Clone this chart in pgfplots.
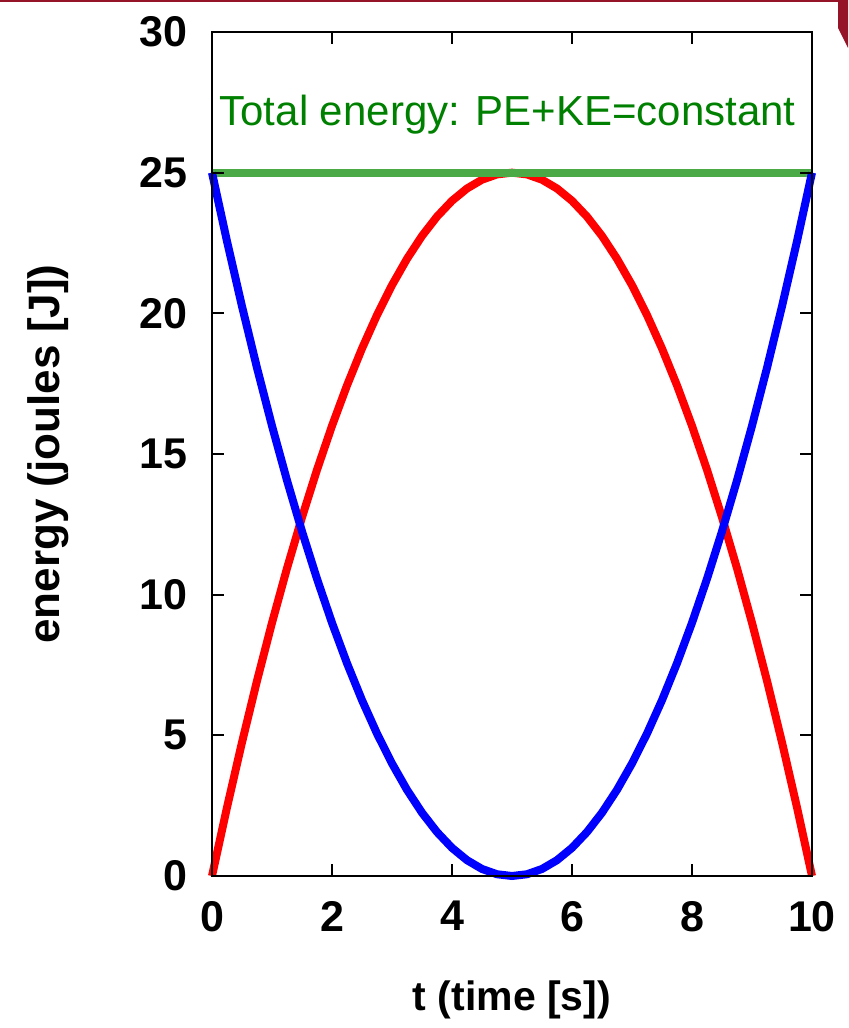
\documentclass[border=0pt]{standalone}
\usepackage{fontspec}
\setmainfont{Liberation Sans}
\usepackage{pgfplots}
\pgfplotsset{compat=1.18}
\definecolor{gline}{RGB}{76,170,70}
\definecolor{gtext}{RGB}{0,128,0}
\definecolor{slidered}{RGB}{150,20,40}
\begin{document}
\begin{tikzpicture}
\useasboundingbox (-106pt,-76pt) rectangle (318pt,438pt);
\begin{axis}[
  at={(0,0)}, anchor=south west,
  scale only axis, width=300pt, height=422pt,
  xmin=0, xmax=10, ymin=0, ymax=30,
  xtick={0,2,4,6,8,10}, ytick={0,5,10,15,20,25,30},
  tick align=inside, major tick length=6pt,
  axis line style={line width=1pt}, every tick/.style={line width=1pt, black},
  /pgf/number format/assume math mode=true,
  ticklabel style={font=\fontsize{21.5}{24}\selectfont\bfseries},
  xticklabel style={yshift=-9pt},
  yticklabel style={xshift=-9pt},
  xlabel={t (time [s])}, ylabel={energy (joules [J])},
  xlabel style={font=\fontsize{20.5}{24}\selectfont\bfseries, at={(axis description cs:0.5,0)}, anchor=center, yshift=-62pt},
  ylabel style={font=\fontsize{22}{24}\selectfont\bfseries, at={(axis description cs:0,0.5)}, anchor=center, yshift=82pt},
  axis on top, clip=false,
]
\addplot[red, line width=4pt] coordinates {
(0,0) (0.25,2.4375) (0.5,4.75) (0.75,6.9375) (1,9) (1.25,10.9375) (1.5,12.75) (1.75,14.4375) (2,16) (2.25,17.4375) (2.5,18.75) (2.75,19.9375) (3,21) (3.25,21.9375) (3.5,22.75) (3.75,23.4375) (4,24) (4.25,24.4375) (4.5,24.75) (4.75,24.9375) (5,25)
(5.25,24.9375) (5.5,24.75) (5.75,24.4375) (6,24) (6.25,23.4375) (6.5,22.75) (6.75,21.9375) (7,21) (7.25,19.9375) (7.5,18.75) (7.75,17.4375) (8,16) (8.25,14.4375) (8.5,12.75) (8.75,10.9375) (9,9) (9.25,6.9375) (9.5,4.75) (9.75,2.4375) (10,0)};
\addplot[gline, line width=4pt] coordinates {(0,25) (10,25)};
\addplot[blue, line width=4pt] coordinates {
(0,25) (0.25,22.5625) (0.5,20.25) (0.75,18.0625) (1,16) (1.25,14.0625) (1.5,12.25) (1.75,10.5625) (2,9) (2.25,7.5625) (2.5,6.25) (2.75,5.0625) (3,4) (3.25,3.0625) (3.5,2.25) (3.75,1.5625) (4,1) (4.25,0.5625) (4.5,0.25) (4.75,0.0625) (5,0)
(5.25,0.0625) (5.5,0.25) (5.75,0.5625) (6,1) (6.25,1.5625) (6.5,2.25) (6.75,3.0625) (7,4) (7.25,5.0625) (7.5,6.25) (7.75,7.5625) (8,9) (8.25,10.5625) (8.5,12.25) (8.75,14.0625) (9,16) (9.25,18.0625) (9.5,20.25) (9.75,22.5625) (10,25)};
\node[anchor=west, text=gtext, font=\fontsize{21}{24}\selectfont, inner sep=0pt] at (axis cs:0.12,27.05) {Total energy: PE+KE=constant};
\end{axis}
\draw[slidered, line width=1.2pt] (-106pt,437.6pt) -- (318pt,437.6pt);
\fill[slidered] (313pt,438pt) -- (318pt,438pt) -- (318pt,414pt) -- (313pt,424pt) -- cycle;
\end{tikzpicture}
\end{document}
